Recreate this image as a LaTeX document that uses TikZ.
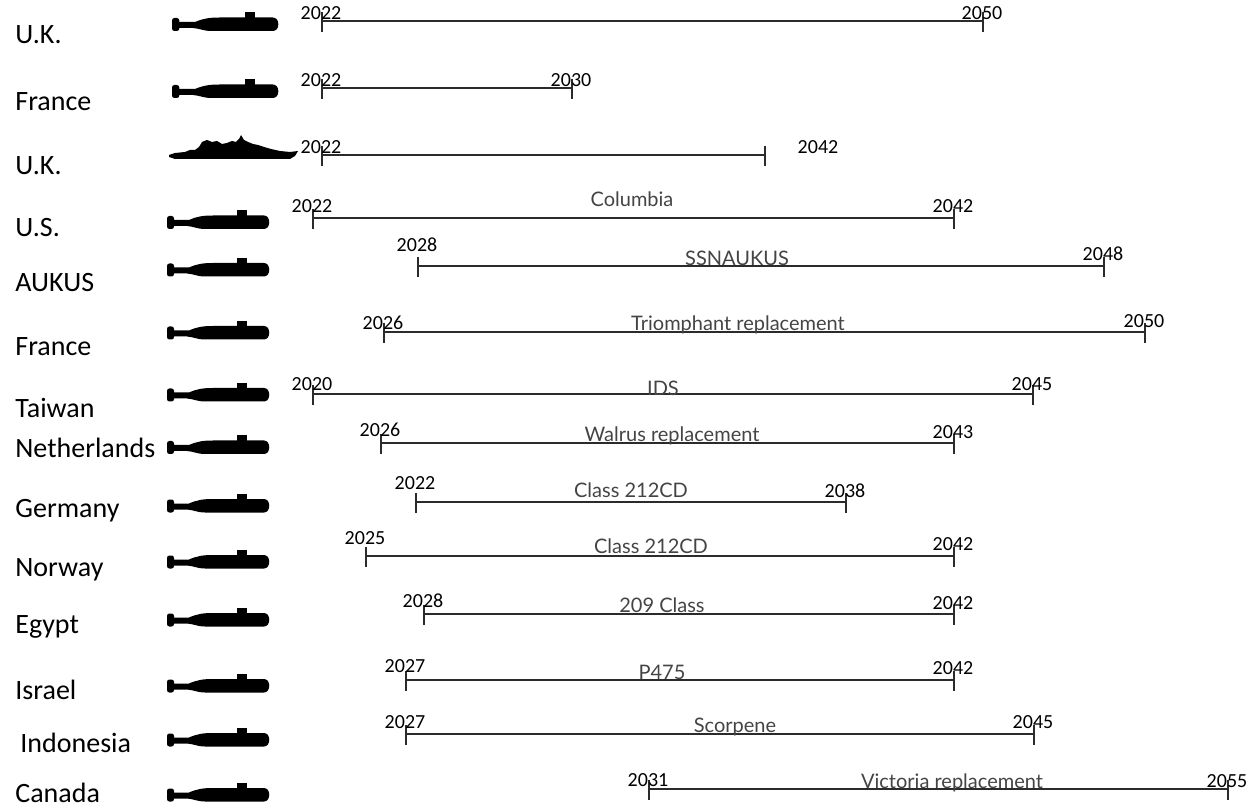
\documentclass[tikz,border=0pt]{standalone}
\usepackage{fontspec}
\setmainfont{Carlito}
\newfontfamily\lightfont{Lato}
\definecolor{barcol}{HTML}{2B2B2B}
\definecolor{lblcol}{HTML}{444444}
\tikzset{
  subm/.pic={
    \fill[rounded corners=1.2] (0,-6.5) rectangle (7,6.5);
    \fill (5,-2.5) -- (22,-2.5) .. controls (30,-6) and (36,-7) .. (46,-7) -- (97,-7)
          .. controls (104,-7) and (104,6.5) .. (97,6.5) -- (38,6.5)
          .. controls (30,6.5) and (27,4) .. (20,3.5) -- (5,3.5) -- cycle;
    \fill (70,-12) rectangle (80,-5);
  }
}
\begin{document}
\begin{tikzpicture}[x=0.5pt,y=-0.5pt,
  bar/.style={draw=barcol,line width=1pt},
  tickline/.style={draw=barcol,line width=1pt},
  country/.style={anchor=base west,inner sep=0pt,font=\fontsize{14}{16}\selectfont},
  yearlbl/.style={anchor=base,inner sep=0pt,font=\fontsize{10}{12}\selectfont},
  barlbl/.style={anchor=base,inner sep=0pt,text=lblcol,font=\lightfont\fontsize{10}{12}\selectfont}]
\useasboundingbox (0,0) rectangle (1258,807);

% country labels
\foreach \n/\x/\y/\t in {c1/15/44/U.K., c2/15/111/France, c3/15/175/U.K., c4/15/237/U.S.,
  c5/15/292/AUKUS, c6/15/356/France, c7/15/418/Taiwan, c8/15/458/Netherlands,
  c9/15/517/Germany, c10/15/576/Norway, c11/15/633/Egypt, c12/15/699/Israel,
  c13/20/752/Indonesia, c14/15/802/Canada}
  \node[country] (\n) at (\x,\y) {\t};

% submarine icons
\pic[xscale=1.04] (sub1) at (172,24.5) {subm};
\pic[xscale=1.04] (sub2) at (172,91.5) {subm};
\foreach \i/\y in {4/222.5,5/270,6/333,7/395,8/447.5,9/506,10/562,11/620,12/686,13/740,14/795}
  \pic (sub\i) at (167,\y) {subm};

% ship icon
\fill (169,155) -- (175,153) -- (185,152) -- (190,150) -- (195,150) -- (199,147) -- (202,142)
  -- (207,140) -- (212,142) -- (217,141) -- (222,144) -- (227,143) -- (232,141) -- (236,142)
  -- (239,139) -- (241,135) -- (244,140) -- (248,142) -- (253,144) -- (258,145) -- (264,147)
  -- (271,149) -- (280,151) -- (290,152) -- (298,151) -- (295,156) -- (290,159) -- (175,159)
  -- (169,157) -- cycle;

% timeline bars
\foreach \i/\by/\xs/\xe/\ys/\ye/\ysb/\yeb in {
  1/21/322/983/2022/2050/20/20,
  2/88/322/572/2022/2030/87/87,
  4/218/313/954/2022/2042/213/213,
  5/266/418/1104/2028/2048/252/261,
  6/332/384/1145/2026/2050/330/328,
  7/394/313/1033/2020/2045/391/391,
  8/443/381/954/2026/2043/437/438,
  9/502/416/846/2022/2038/489/497,
  10/556/366/954/2025/2042/544/550,
  11/614/424/954/2028/2042/607/609,
  12/680/406/954/2027/2042/672/674,
  13/734/406/1034/2027/2045/728/728,
  14/789/649/1228/2031/2055/786/787}{
  \coordinate (s\i) at (\xs,\by);
  \coordinate (e\i) at (\xe,\by);
  \draw[bar] (s\i) -- (e\i);
  \draw[tickline] ([yshift=4.5pt]s\i) -- ([yshift=-5.5pt]s\i);
  \draw[tickline] ([yshift=4.5pt]e\i) -- ([yshift=-5.5pt]e\i);
  \node[yearlbl] (ys\i) at (\xs-1,\ysb) {\ys};
  \node[yearlbl] (ye\i) at (\xe-1,\yeb) {\ye};
}
% row 3 (ship)
\coordinate (s3) at (322,155);
\coordinate (e3) at (765,155);
\draw[bar] (s3) -- (e3);
\draw[tickline] ([yshift=4.5pt]s3) -- ([yshift=-5.5pt]s3);
\draw[tickline] ([yshift=4.5pt]e3) -- ([yshift=-5.5pt]e3);
\node[yearlbl] (ys3) at (321,154) {2022};
\node[yearlbl] (ye3) at (818,154) {2042};

% bar labels
\foreach \i/\x/\y/\t in {4/632/207/Columbia, 5/737/266/SSNAUKUS, 6/738/331/Triomphant replacement,
  7/663/396/IDS, 8/672/442/Walrus replacement, 9/631/497/Class 212CD, 10/651/553/Class 212CD,
  11/662/612/209 Class, 12/662/679/P475, 13/735/732/Scorpene, 14/952/788/Victoria replacement}
  \node[barlbl] (lab\i) at (\x,\y) {\t};
\end{tikzpicture}
\end{document}
